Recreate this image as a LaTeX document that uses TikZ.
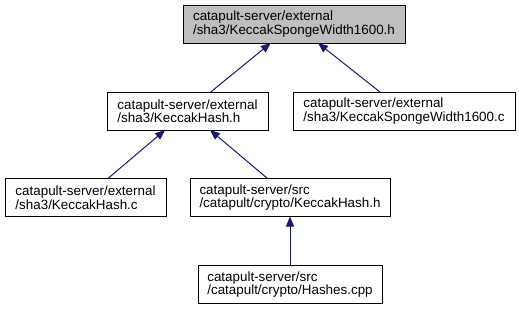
\documentclass[tikz,border=0pt]{standalone}
\usepackage{fontspec}
\setmainfont{Liberation Sans}
\usetikzlibrary{arrows.meta}
\definecolor{edgecol}{HTML}{191970}
\definecolor{rootcol}{HTML}{BFBFBF}

\tikzset{
  file/.style={draw=black,line width=1pt,fill=white,align=left,
    minimum height=38pt,inner sep=0pt,outer sep=0pt,
    font=\fontsize{13.4}{11}\selectfont},
  root/.style={file,fill=rootcol},
  incl/.style={edgecol,line width=1pt,-{Triangle[length=10pt,width=8pt]}}
}

\begin{document}
\begin{tikzpicture}[x=1pt,y=-1pt]
  \useasboundingbox (0,0) rectangle (519,309);

  % files, one row per include level
  \node[root,minimum width=222pt] (spongeH) at (294,24)
    {catapult-server/external\\/sha3/KeccakSpongeWidth1600.h};

  \node[file,minimum width=161pt] (hashH) at (187.5,111)
    {catapult-server/external\\/sha3/KeccakHash.h};
  \node[file,minimum width=222pt] (spongeC) at (404,111)
    {catapult-server/external\\/sha3/KeccakSpongeWidth1600.c};

  \node[file,minimum width=161pt] (hashC) at (85.5,197.5)
    {catapult-server/external\\/sha3/KeccakHash.c};
  \node[file,minimum width=200pt] (cryptoH) at (290,197.5)
    {catapult-server/src\\/catapult/crypto/KeccakHash.h};

  \node[file,minimum width=184pt] (hashesCpp) at (290,284.5)
    {catapult-server/src\\/catapult/crypto/Hashes.cpp};

  % include edges
  \draw[incl] (hashH) -- (spongeH);
  \draw[incl] (spongeC) -- (spongeH);
  \draw[incl] (hashC) -- (hashH);
  \draw[incl] (cryptoH) -- (hashH);
  \draw[incl] (hashesCpp) -- (cryptoH);
\end{tikzpicture}
\end{document}
